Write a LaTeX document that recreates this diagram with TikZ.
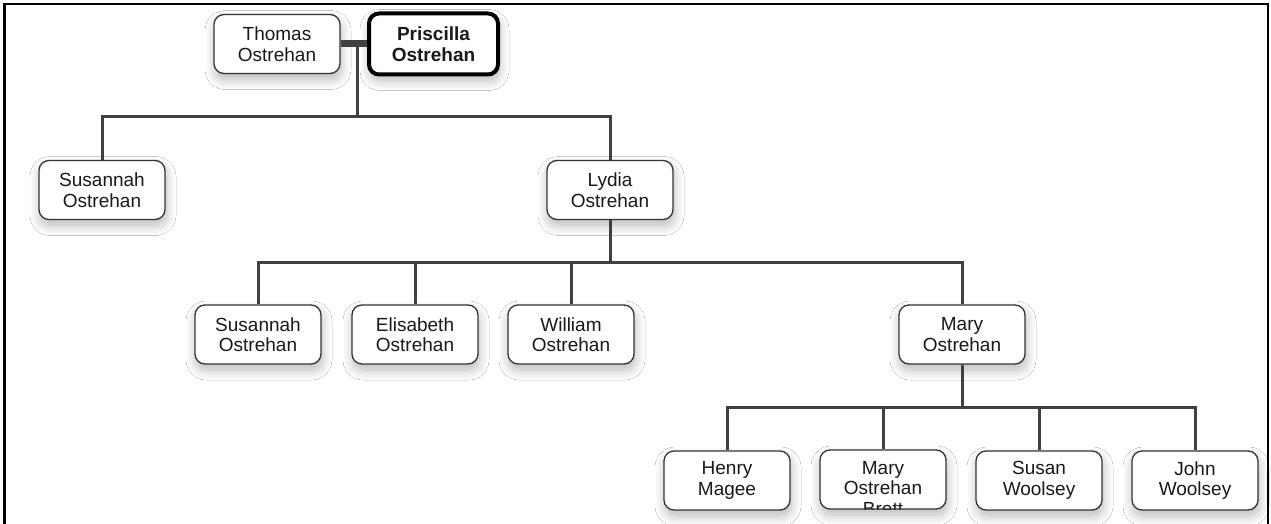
\documentclass[tikz,border=0pt]{standalone}
\usepackage{fontspec}
\setmainfont{Liberation Sans}
\usetikzlibrary{shadows.blur,calc}
\tikzset{
  person/.style={draw=black!80, line width=1.3pt, rounded corners=10pt, fill=white,
    minimum width=126pt, minimum height=59pt, inner sep=0pt, align=center,
    font=\fontsize{19}{20.5}\selectfont, text=black!90,
    blur shadow={shadow xshift=1pt, shadow yshift=-6pt, shadow blur radius=10pt, shadow blur steps=12, shadow opacity=28}},
  focus/.style={person, draw=black, line width=4pt, minimum width=129pt, minimum height=61pt, font=\fontsize{19}{20.5}\selectfont\bfseries},
  link/.style={draw=black!75, line width=3pt, line join=miter},
  couple/.style={draw=black!75, line width=7pt},
  frame/.style={draw=black, line width=2.5pt},
}
\begin{document}
\begin{tikzpicture}[x=1pt,y=-1pt]
\useasboundingbox (0,0) rectangle (1271,524);
\fill[white] (0,0) rectangle (1271,524);
\draw[frame] (4.5,524) -- (4.5,4) -- (1268,4) -- (1268,524);

% generation 1
\node[person] (thomas) at (277,44) {Thomas\\Ostrehan};
\node[focus] (priscilla) at (433.5,44) {Priscilla\\Ostrehan};
% generation 2
\node[person] (susannah1) at (102,190) {Susannah\\Ostrehan};
\node[person] (lydia) at (610,190) {Lydia\\Ostrehan};
% generation 3
\node[person] (susannah2) at (258,334.5) {Susannah\\Ostrehan};
\node[person] (elisabeth) at (415,334.5) {Elisabeth\\Ostrehan};
\node[person] (william) at (571,334.5) {William\\Ostrehan};
\node[person] (mary) at (962,334.5) {Mary\\Ostrehan};
% generation 4
\node[person, yshift=-1pt] (henry) at (727,479.5) {Henry\\Magee};
\node[person, path picture={
    \node[anchor=north, align=center, inner sep=0pt, font=\fontsize{19}{20.5}\selectfont, text=black!90]
      at ($(path picture bounding box.center)+(0,-21.5)$) {Mary\\Ostrehan\\Brett};
  }] (brett) at (883,479.5) {};
\node[person, yshift=-1pt] (susan) at (1039,479.5) {Susan\\Woolsey};
\node[person, yshift=-1pt] (john) at (1195,479.5) {John\\Woolsey};

% connectors
\draw[couple] (thomas.east) -- (priscilla.west);
\coordinate (c0) at (357,44);
\coordinate (j0) at (357,117);
\draw[link] (c0) -- (j0);
\draw[link] (j0) -| (susannah1.north);
\draw[link] (j0) -| (lydia.north);

\coordinate (j1) at (610,262);
\draw[link] (lydia.south) -- (j1);
\draw[link] (j1) -| (susannah2.north);
\draw[link] (j1) -| (elisabeth.north);
\draw[link] (j1) -| (william.north);
\draw[link] (j1) -| (mary.north);

\coordinate (j2) at (962,407);
\draw[link] (mary.south) -- (j2);
\draw[link] (j2) -| (henry.north);
\draw[link] (j2) -| (brett.north);
\draw[link] (j2) -| (susan.north);
\draw[link] (j2) -| (john.north);
\end{tikzpicture}
\end{document}
